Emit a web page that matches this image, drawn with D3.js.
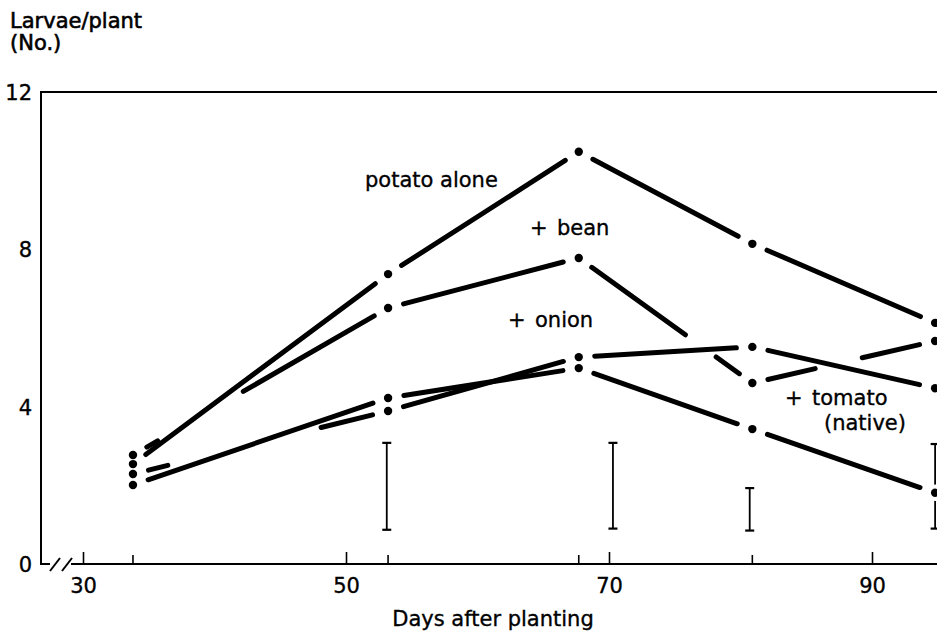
<!DOCTYPE html>
<html>
<head>
<meta charset="utf-8">
<script src="https://cdn.jsdelivr.net/npm/d3@7"></script>
<style>
  html, body { margin: 0; padding: 0; background: #fff; }
  svg { display: block; }
  text { font-family: "DejaVu Sans", sans-serif; fill: #000; }
</style>
</head>
<body>
<svg id="chart" width="937" height="636"></svg>
<script>
// ---------------- data ----------------
const days        = [33.8, 53.2, 67.7, 80.9, 94.8];
const potatoAlone = [2.54, 7.37, 10.48, 8.14, 6.13];
const withBean    = [2.77, 6.51, 7.78, 4.60, 5.67];
const withOnion   = [2.29, 3.89, 5.26, 5.52, 4.47];
const withTomato  = [2.01, 4.22, 4.98, 3.43, 1.81];

const errDays = [53.1, 70.3, 80.7, 94.8];
const errLow  = [0.87, 0.90, 0.85, 0.90];
const errHigh = [3.08, 3.08, 1.93, 3.05];

const xTickValues = [30, 50, 70, 90];
const yTickValues = [0, 4, 8, 12];

const seriesNames = ["potato alone", "+ bean", "+ onion", "+ tomato (native)"];
const seriesValues = [potatoAlone, withBean, withOnion, withTomato];

// ---------------- style / layout ----------------
// extra hand-drawn gaps in dashes: series index -> segment index -> [from, to] fractions
const dashBreaks = {
  1: { 0: [[0.105, 0.424]], 2: [[0.626, 0.78]], 3: [[0.357, 0.588]] },
  2: { 0: [[0.146, 0.728]] }
};
const lineWidth = 5;
const endGap = 13.5;   // visible gap between a dot and the line end
const dotR = 4.2;
const fontSize = 21;
const textStroke = 0.35;

const svg = d3.select("#chart");
const W = 937, H = 636;

const x = d3.scaleLinear().domain([30, 90]).range([83, 872]);
const y = d3.scaleLinear().domain([0, 12]).range([564, 92]);
const axisX = 41;

// ---------------- frame ----------------
const frame = svg.append("g").attr("stroke", "#000").attr("stroke-width", 2).attr("fill", "none");
frame.append("line").attr("x1", axisX).attr("x2", W).attr("y1", y(12)).attr("y2", y(12));
frame.append("line").attr("x1", axisX).attr("x2", axisX).attr("y1", y(12) - 1).attr("y2", y(0));
frame.append("line").attr("x1", axisX - 1).attr("x2", 50).attr("y1", y(0)).attr("y2", y(0));
frame.append("line").attr("x1", 71).attr("x2", W).attr("y1", y(0)).attr("y2", y(0));
// axis break marks
frame.append("line").attr("x1", 50).attr("y1", y(0) + 7).attr("x2", 60).attr("y2", y(0) - 6);
frame.append("line").attr("x1", 62).attr("y1", y(0) + 7).attr("x2", 72).attr("y2", y(0) - 6);

// ---------------- axes ----------------
const gx = svg.append("g").attr("transform", `translate(0,${y(0)})`)
  .call(d3.axisBottom(x).tickValues(xTickValues).tickSize(-12).tickPadding(14).tickFormat(d3.format("d")));
gx.select(".domain").remove();
gx.selectAll(".tick line").attr("stroke", "#000").attr("stroke-width", 1.6);
gx.selectAll(".tick text").attr("font-size", fontSize).attr("font-family", "DejaVu Sans")
  .attr("fill", "#000").attr("stroke", "#000").attr("stroke-width", textStroke);

// minor ticks at sampling dates
svg.append("g").selectAll("line").data(days.slice(0, 4)).join("line")
  .attr("x1", d => x(d)).attr("x2", d => x(d))
  .attr("y1", y(0)).attr("y2", y(0) - 9)
  .attr("stroke", "#000").attr("stroke-width", 1.6);

const gy = svg.append("g").attr("transform", `translate(${axisX},0)`)
  .call(d3.axisLeft(y).tickValues(yTickValues).tickSize(0).tickPadding(9).tickFormat(d3.format("d")));
gy.select(".domain").remove();
gy.selectAll(".tick text").attr("font-size", fontSize).attr("font-family", "DejaVu Sans")
  .attr("fill", "#000").attr("stroke", "#000").attr("stroke-width", textStroke).attr("dy", "0.36em");

// ---------------- titles ----------------
svg.append("text").attr("x", 10).attr("y", 28).attr("font-size", fontSize)
  .attr("stroke", "#000").attr("stroke-width", 0.6).text("Larvae/plant");
svg.append("text").attr("x", 10).attr("y", 50).attr("font-size", fontSize)
  .attr("stroke", "#000").attr("stroke-width", 0.6).text("(No.)");
svg.append("text").attr("x", 493).attr("y", 626).attr("font-size", fontSize)
  .attr("stroke", "#000").attr("stroke-width", textStroke)
  .attr("text-anchor", "middle").text("Days after planting");

// ---------------- error bars ----------------
const eb = svg.append("g").attr("stroke", "#000").attr("stroke-width", 1.8);
errDays.forEach((d, i) => {
  const cx = x(d);
  eb.append("line").attr("x1", cx).attr("x2", cx).attr("y1", y(errLow[i])).attr("y2", y(errHigh[i]));
  eb.append("line").attr("x1", cx - 4.5).attr("x2", cx + 4.5).attr("y1", y(errLow[i])).attr("y2", y(errLow[i])).attr("stroke-width", 2.2);
  eb.append("line").attr("x1", cx - 4.5).attr("x2", cx + 4.5).attr("y1", y(errHigh[i])).attr("y2", y(errHigh[i])).attr("stroke-width", 2.2);
});

// ---------------- series lines ----------------
const lineGen = d3.line();
const cap = lineWidth / 2;
const lg = svg.append("g").attr("stroke", "#000").attr("stroke-width", lineWidth)
  .attr("stroke-linecap", "round").attr("fill", "none");

seriesValues.forEach((vals, si) => {
  for (let k = 0; k < vals.length - 1; k++) {
    const p0 = [x(days[k]), y(vals[k])];
    const p1 = [x(days[k + 1]), y(vals[k + 1])];
    const L = Math.hypot(p1[0] - p0[0], p1[1] - p0[1]);
    const ux = (p1[0] - p0[0]) / L, uy = (p1[1] - p0[1]) / L;
    let pieces = [[endGap, L - endGap]];
    const br = (dashBreaks[si] && dashBreaks[si][k]) || [];
    br.forEach(([f0, f1]) => {
      const a = f0 * L, b = f1 * L;
      const next = [];
      pieces.forEach(([s, e]) => {
        if (b <= s || a >= e) { next.push([s, e]); return; }
        if (a > s) next.push([s, a]);
        if (b < e) next.push([b, e]);
      });
      pieces = next;
    });
    pieces.forEach(([s, e]) => {
      const s2 = s + cap, e2 = e - cap;
      if (e2 <= s2) return;
      lg.append("path").attr("d", lineGen([
        [p0[0] + ux * s2, p0[1] + uy * s2],
        [p0[0] + ux * e2, p0[1] + uy * e2]
      ]));
    });
  }
});

// ---------------- dots ----------------
const allPts = [];
seriesValues.forEach(vals => vals.forEach((v, i) => allPts.push([days[i], v])));
svg.append("g").selectAll("circle").data(allPts).join("circle")
  .attr("cx", d => x(d[0])).attr("cy", d => y(d[1])).attr("r", dotR + 4).attr("fill", "#fff");
svg.append("g").selectAll("circle").data(allPts).join("circle")
  .attr("cx", d => x(d[0])).attr("cy", d => y(d[1])).attr("r", dotR).attr("fill", "#000");

// ---------------- series labels ----------------
const labels = [
  { plus: false, text: "potato alone", x: 365, y: 187 },
  { plus: true,  text: "bean",   x: 530, y: 235 },
  { plus: true,  text: "onion",  x: 508, y: 327 },
  { plus: true,  text: "tomato", x: 785, y: 405 },
  { plus: false, text: "(native)", x: 824, y: 430 }
];
const lt = svg.append("g").selectAll("text").data(labels).join("text")
  .attr("x", d => d.x).attr("y", d => d.y).attr("font-size", fontSize)
  .attr("stroke", "#000").attr("stroke-width", textStroke);
lt.each(function(d) {
  const t = d3.select(this);
  if (d.plus) {
    t.append("tspan").text("+");
    t.append("tspan").attr("x", d.x + 27).text(d.text);
  } else {
    t.text(d.text);
  }
});
</script>
</body>
</html>
